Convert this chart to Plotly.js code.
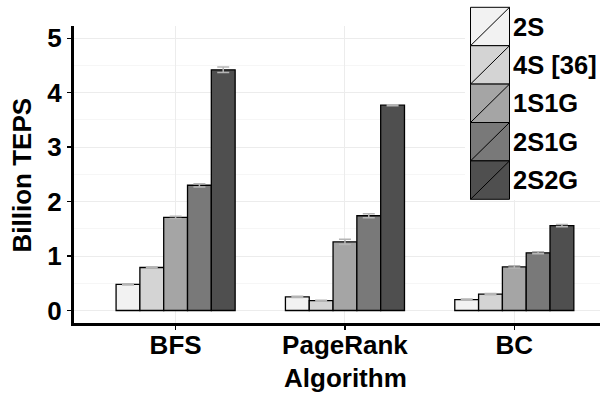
<!DOCTYPE html>
<html>
<head>
<meta charset="utf-8">
<script src="https://cdn.plot.ly/plotly-3.0.1.min.js"></script>
<style>html,body{margin:0;padding:0;background:#fff;}#chart{width:600px;height:393px;}</style>
</head>
<body>
<div id="chart"></div>
<script>
const algorithms = ["BFS", "PageRank", "BC"];
const seriesNames = ["2S", "4S [36]", "1S1G", "2S1G", "2S2G"];
const val2S   = [0.48, 0.25, 0.20];
const val4S   = [0.79, 0.18, 0.30];
const val1S1G = [1.71, 1.26, 0.80];
const val2S1G = [2.30, 1.74, 1.06];
const val2S2G = [4.42, 3.77, 1.56];
const err2S   = [0.01, 0.01, 0.01];
const err4S   = [0.01, 0.01, 0.01];
const err1S1G = [0.02, 0.05, 0.02];
const err2S1G = [0.03, 0.035, 0.02];
const err2S2G = [0.05, 0.01, 0.02];
const fills = ["#f2f2f2", "#d4d4d4", "#a5a5a5", "#797979", "#4f4f4f"];

const values = [val2S, val4S, val1S1G, val2S1G, val2S2G];
const errors = [err2S, err4S, err1S1G, err2S1G, err2S2G];

const fam = "Liberation Sans, Arial, sans-serif";
const tickFont = {family: fam, size: 26, color: "#000", weight: "bold"};
const legFont = {family: fam, size: 25.5, color: "#000", weight: "bold"};
const titleFont = {family: fam, size: 26, color: "#000", weight: "bold"};

const traces = seriesNames.map((name, i) => ({
  type: "bar",
  name: name,
  x: algorithms,
  y: values[i],
  marker: {color: fills[i], line: {color: "#000", width: 1.3}},
  error_y: {type: "data", array: errors[i], visible: true, color: "#b5b5b5", thickness: 1.5, width: 6},
  showlegend: false
}));

// plot area in pixels
const L = 74, R = 600, T = 26, B = 323;
const px = v => (v - L) / (R - L);
const py = v => (B - v) / (B - T);

const shapes = [];
const annotations = [];
// white legend background
shapes.push({type: "rect", xref: "paper", yref: "paper", layer: "above",
  x0: px(465), x1: px(601), y0: py(0), y1: py(200), fillcolor: "#fff", line: {width: 0}});
const kx0 = 470.5, kx1 = 509.5, ky0 = 7.3, kh = 38.4;
seriesNames.forEach((name, i) => {
  const top = ky0 + i * kh, bot = top + kh;
  shapes.push({type: "rect", xref: "paper", yref: "paper", layer: "above",
    x0: px(kx0), x1: px(kx1), y0: py(bot), y1: py(top), fillcolor: fills[i], line: {color: "#000", width: 1}});
  shapes.push({type: "line", xref: "paper", yref: "paper", layer: "above",
    x0: px(kx0), x1: px(kx1), y0: py(bot), y1: py(top), line: {color: "#000", width: 1}});
  annotations.push({xref: "paper", yref: "paper", x: px(511), y: py((top + bot) / 2),
    xanchor: "left", yanchor: "middle", text: name, showarrow: false, font: legFont});
});
annotations.push({xref: "paper", yref: "paper", x: px(21), y: py(175.5), textangle: -90,
  text: "Billion TEPS", showarrow: false, xanchor: "center", yanchor: "middle", font: titleFont});
annotations.push({xref: "paper", yref: "paper", x: px(345), y: py(378),
  text: "Algorithm", showarrow: false, xanchor: "center", yanchor: "middle", font: titleFont});

const layout = {
  width: 600, height: 393,
  margin: {l: L, r: 600 - R, t: T, b: 393 - B, pad: 0},
  paper_bgcolor: "#fff", plot_bgcolor: "#fff",
  barmode: "group", bargap: 0.297, bargroupgap: 0,
  font: tickFont,
  showlegend: false,
  xaxis: {
    type: "category", range: [-0.6, 2.506],
    showline: true, linecolor: "#000", linewidth: 3,
    ticks: "outside", ticklen: 4, tickwidth: 1.5, tickcolor: "#000",
    ticklabelstandoff: -7,
    showgrid: true, gridcolor: "#ececec", gridwidth: 1,
    tickfont: tickFont, zeroline: false
  },
  yaxis: {
    range: [-0.2296, 5.225],
    tickvals: [0, 1, 2, 3, 4, 5],
    showline: true, linecolor: "#000", linewidth: 3,
    ticks: "outside", ticklen: 4, tickwidth: 1.5, tickcolor: "#000",
    showgrid: true, gridcolor: "#ececec", gridwidth: 1,
    minor: {tickvals: [0.5, 1.5, 2.5, 3.5, 4.5], showgrid: true, gridcolor: "#f6f6f6", gridwidth: 1},
    tickfont: tickFont, zeroline: false
  },
  shapes: shapes,
  annotations: annotations
};

Plotly.newPlot("chart", traces, layout, {staticPlot: true, displayModeBar: false});
</script>
</body>
</html>
